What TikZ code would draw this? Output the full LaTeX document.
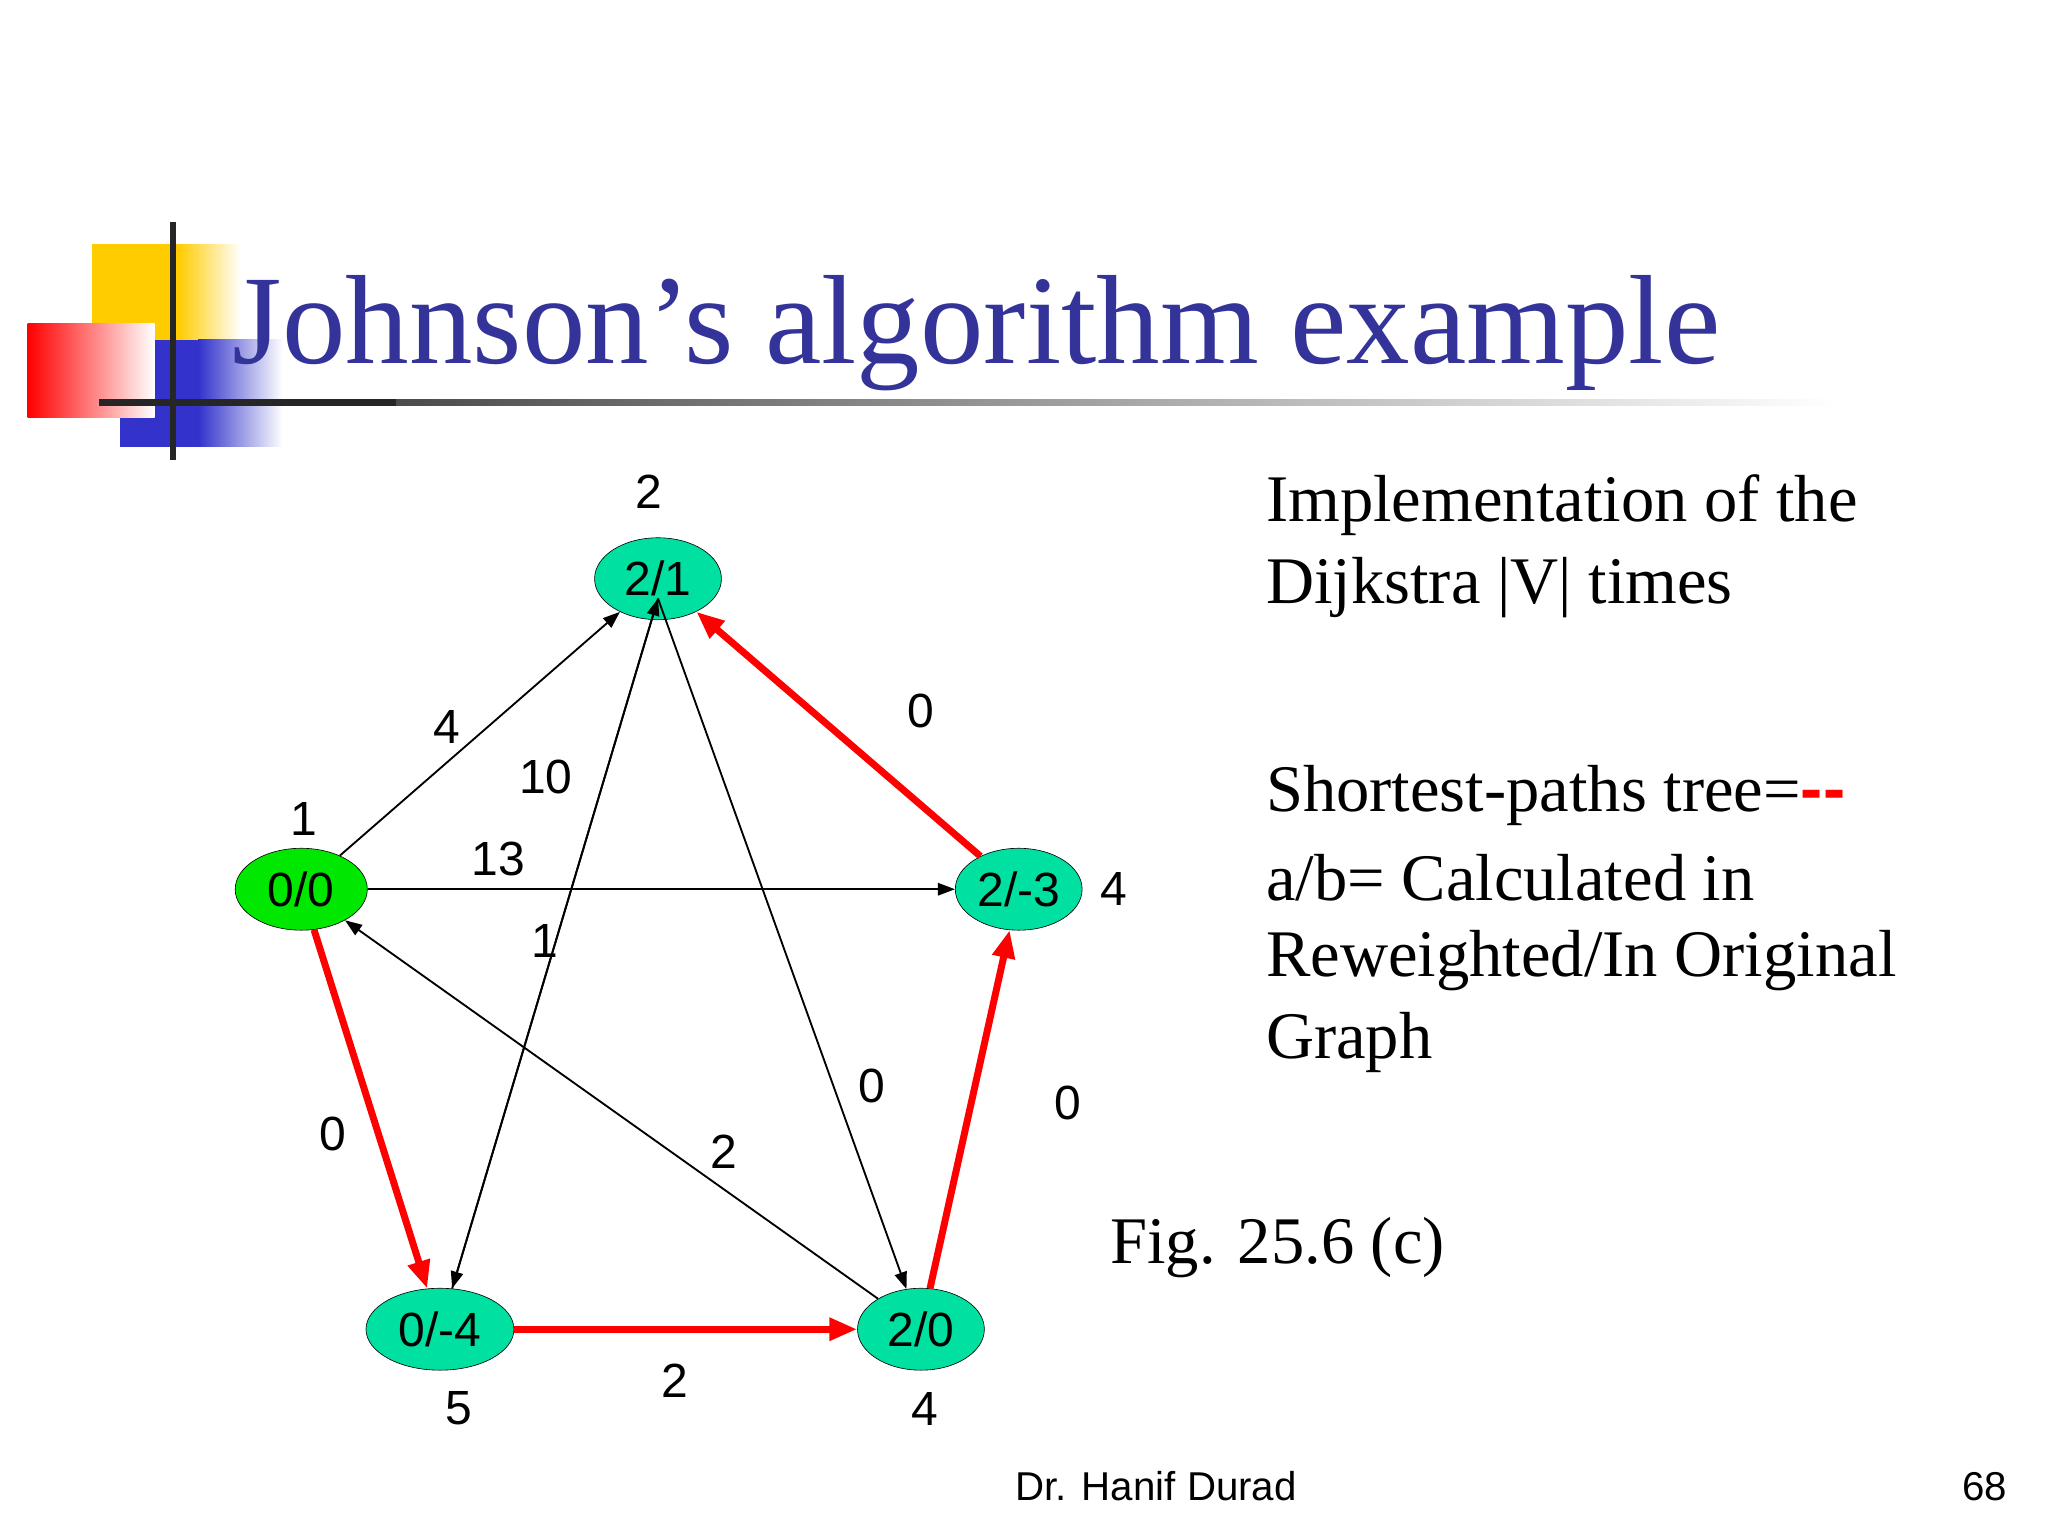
\documentclass[tikz,border=0pt]{standalone}
\usepackage{fontspec}
\setmainfont{Liberation Serif}
\setsansfont{Liberation Sans}
\usetikzlibrary{arrows.meta,shapes.geometric}
\definecolor{ttl}{RGB}{51,51,153}
\definecolor{nodeg}{RGB}{0,224,160}
\definecolor{srcg}{RGB}{0,232,0}
\definecolor{logoY}{RGB}{255,204,0}
\definecolor{logoB}{RGB}{51,51,204}
\newlength{\pu}
\setlength{\pu}{0.3mm}
\tikzset{
  vx/.style={ellipse,draw=black,fill=nodeg,minimum width=96\pu,minimum height=62\pu,inner sep=0pt,font=\sffamily\fontsize{31}{31}\selectfont},
  lbl/.style={font=\sffamily\fontsize{31}{31}\selectfont,inner sep=0pt},
  blk/.style={draw=black,line width=1.2pt,-{Triangle[length=11pt,width=8pt]}},
  redge/.style={draw=red,line width=4.5pt,-{Triangle[length=18pt,width=14pt]}},
  rtext/.style={anchor=west,font=\fontsize{43}{43}\selectfont,inner sep=0pt}
}
\begin{document}
\begin{tikzpicture}[x=0.3mm,y=-0.3mm]
\useasboundingbox (0,0) rectangle (1550,1162);
\fill[white] (0,0) rectangle (1550,1162);
% logo
\fill[logoY] (70,185) rectangle (135,257);
\shade[left color=logoY,right color=white] (135,185) rectangle (182,257);
\fill[logoB] (91,257) rectangle (150,338);
\shade[left color=logoB,right color=white] (150,257) rectangle (214,338);
\shade[shading=axis,shading angle=135,left color=red,right color=white] (21,245) rectangle (117,316);
\draw[black!85,line width=4pt] (131,168) -- (131,348);
\shade[left color=black!85,right color=white] (75,302) rectangle (1390,307);
\fill[black!85] (75,302) rectangle (300,307);
% title
\node[anchor=base west,text=ttl,font=\fontsize{82}{82}\selectfont,inner sep=0pt] (title) at (176,275) {Johnson’s algorithm example};
% nodes
\node[vx] (b) at (498,438) {2/1};
\node[vx,fill=srcg,minimum width=100\pu] (s) at (228,673) {0/0};
\node[vx] (c) at (771,673) {2/-3};
\node[vx,minimum width=112\pu] (e) at (333,1006) {0/-4};
\node[vx] (d) at (697,1006) {2/0};
\coordinate (bb) at (498,453);
% black edges
\draw[blk] (s) -- (b);
\draw[blk] (s) -- (c);
\draw[blk] (d) -- (s);
\draw[blk] (bb) -- (e);
\draw[blk] (e) -- (bb);
\draw[blk] (bb) -- (d);
% red edges
\draw[redge] (c) -- (b);
\draw[redge] (s) -- (e);
\draw[redge] (e) -- (d);
\draw[redge] (d) -- (c);
% vertex labels
\node[lbl] (lb) at (491,372) {2};
\node[lbl] (ls) at (230,620) {1};
\node[lbl] (lc) at (843,673) {4};
\node[lbl] (le) at (347,1066) {5};
\node[lbl] (ld) at (700,1066) {4};
% edge labels
\node[lbl] (w1) at (338,550) {4};
\node[lbl] (w2) at (413,588) {10};
\node[lbl] (w3) at (377,650) {13};
\node[lbl] (w4) at (412,712) {1};
\node[lbl] (w5) at (697,538) {0};
\node[lbl] (w6) at (252,858) {0};
\node[lbl] (w7) at (548,872) {2};
\node[lbl] (w8) at (660,822) {0};
\node[lbl] (w9) at (808,835) {0};
\node[lbl] (w10) at (511,1045) {2};
% right text
\node[rtext] (t1) at (958,382) {Implementation of the};
\node[rtext] (t2) at (958,445) {Dijkstra |V| times};
\node[rtext] (t3) at (958,602) {Shortest-paths tree=\textcolor{red}{\textsf{\textbf{-{}-}}}};
\node[rtext] (t4) at (958,664) {a/b= Calculated in};
\node[rtext] (t5) at (958,727) {Reweighted/In Original};
\node[rtext] (t6) at (958,789) {Graph};
\node[rtext] (fig) at (840,944) {Fig. 25.6 (c)};
\node[lbl,font=\sffamily\fontsize{26}{26}\selectfont] (ft) at (875,1125) {Dr. Hanif Durad};
\node[lbl,font=\sffamily\fontsize{26}{26}\selectfont] (pg) at (1502,1125) {68};
\end{tikzpicture}
\end{document}
